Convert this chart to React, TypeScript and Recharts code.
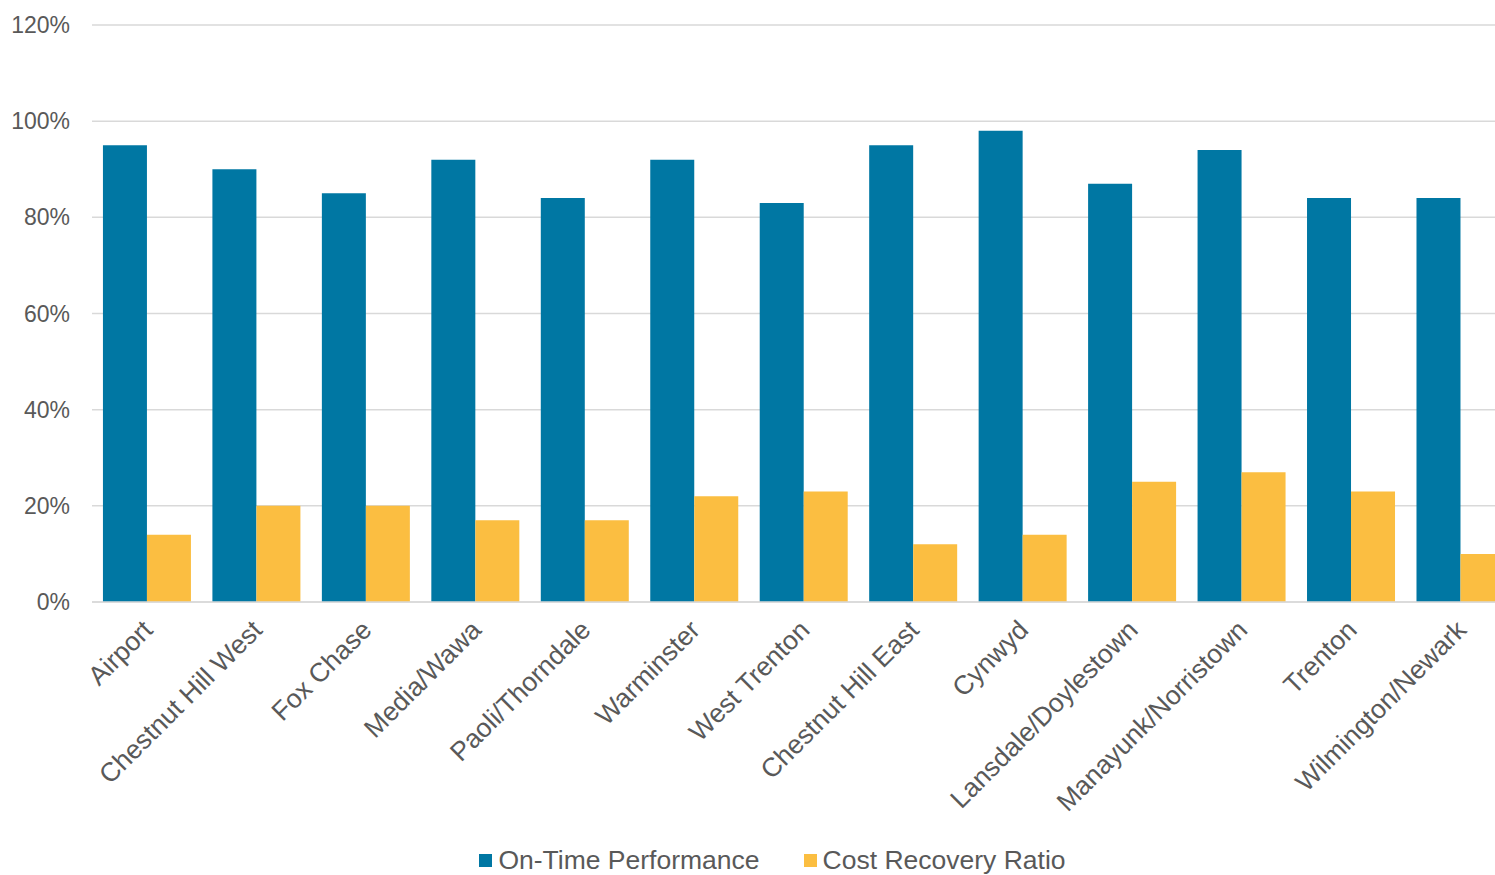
import { BarChart, Bar, XAxis, YAxis, CartesianGrid, Legend } from 'recharts';

const lines = [
  'Airport', 'Chestnut Hill West', 'Fox Chase', 'Media/Wawa', 'Paoli/Thorndale', 'Warminster',
  'West Trenton', 'Chestnut Hill East', 'Cynwyd', 'Lansdale/Doylestown', 'Manayunk/Norristown',
  'Trenton', 'Wilmington/Newark',
];
const onTime = [95, 90, 85, 92, 84, 92, 83, 95, 98, 87, 94, 84, 84];
const costRecovery = [14, 20, 20, 17, 17, 22, 23, 12, 14, 25, 27, 23, 10];
const yTicks = [0, 20, 40, 60, 80, 100, 120];

const BLUE = '#0077A3';
const GOLD = '#FBBE41';
const TEXT = '#595959';
const FONT = '"Liberation Sans", Arial, sans-serif';

const data = lines.map((name, i) => ({ name, onTime: onTime[i], cost: costRecovery[i] }));

function AngledTick({ x, y, payload }: any) {
  return (
    <g transform={`translate(${x + 1},${y + 15})`}>
      <text x={0} y={0} dy="0.35em" textAnchor="end" transform="rotate(-45)"
        fill={TEXT} fontSize={26.5} fontFamily={FONT}>
        {payload.value}
      </text>
    </g>
  );
}

function LegendBox() {
  const items = [
    { label: 'On-Time Performance', color: BLUE },
    { label: 'Cost Recovery Ratio', color: GOLD },
  ];
  return (
    <div style={{ display: 'flex', justifyContent: 'center', gap: 44, fontFamily: FONT, fontSize: 26.5, color: TEXT, paddingLeft: 30, lineHeight: '30px' }}>
      {items.map(it => (
        <div key={it.label} style={{ display: 'flex', alignItems: 'center' }}>
          <span style={{ width: 13, height: 13, background: it.color, display: 'inline-block', marginRight: 6 }} />
          <span>{it.label}</span>
        </div>
      ))}
    </div>
  );
}

export default function App() {
  return (
    <div style={{ position: 'absolute', left: 0, top: 0, width: 1495, height: 875, overflow: 'hidden', background: '#fff' }}>
      <BarChart width={1520} height={875} data={data}
        margin={{ top: 25, right: 5, left: 0, bottom: 0 }}
        barCategoryGap="10%" barGap={0}>
        <CartesianGrid vertical={false} stroke="#D9D9D9" strokeWidth={1.5} />
        <XAxis dataKey="name" interval={0} height={243} tick={<AngledTick />}
          tickLine={false} axisLine={{ stroke: '#D9D9D9', strokeWidth: 1.5 }} />
        <YAxis domain={[0, 120]} ticks={yTicks} width={92} tickFormatter={(v: number) => `${v}%`}
          tickLine={false} axisLine={false} tickMargin={16}
          tick={{ fill: TEXT, fontSize: 23, fontFamily: FONT }} />
        <Legend verticalAlign="bottom" height={30} content={<LegendBox />} />
        <Bar dataKey="onTime" name="On-Time Performance" fill={BLUE} isAnimationActive={false} />
        <Bar dataKey="cost" name="Cost Recovery Ratio" fill={GOLD} isAnimationActive={false} />
      </BarChart>
    </div>
  );
}
